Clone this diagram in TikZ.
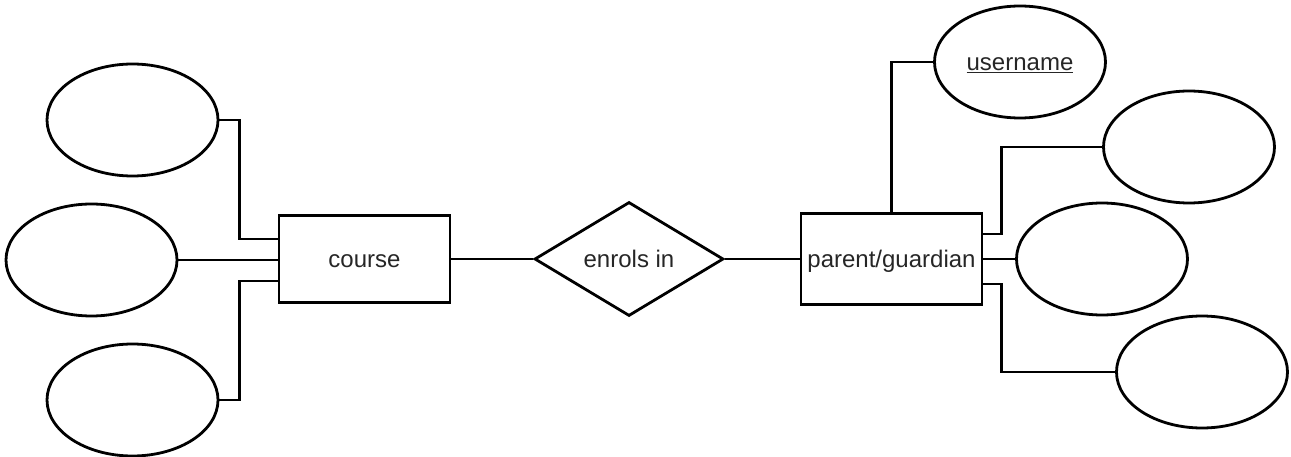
\documentclass[tikz,border=0pt]{standalone}
\usepackage{fontspec}
\setmainfont{Liberation Sans}
\usetikzlibrary{shapes.geometric}
\begin{document}
\begin{tikzpicture}[x=1pt,y=-1pt,line width=2.8pt,
  attr/.style={draw, ellipse, minimum width=171pt, minimum height=112pt, inner sep=0pt},
  entity/.style={draw, rectangle, inner sep=0pt},
  rel/.style={draw, diamond, inner sep=0pt, aspect=1.66, minimum width=189pt, minimum height=114pt},
  lbl/.style={font=\fontsize{24}{28}\selectfont, text=black!85, text height=17.5pt, text depth=0pt}]
\useasboundingbox (0,0) rectangle (1291,457);
% course side
\node[entity, lbl, minimum width=171pt, minimum height=87pt] (course) at (364.5,259) {course};
\node[attr] (A1) at (132.5,120) {};
\node[attr] (A2) at (91.5,260) {};
\node[attr] (A3) at (132.5,400) {};
% relationship
\node[rel, lbl] (rel) at (629,259) {enrols in};
% parent side
\node[entity, lbl, minimum width=181pt, minimum height=91pt] (parent) at (891.5,259) {parent/guardian};
\node[attr, lbl] (U) at (1020,62) {\underline{username}};
\node[attr] (B1) at (1189,147) {};
\node[attr] (B2) at (1102,259) {};
\node[attr] (B3) at (1202,372) {};
% connectors
\draw (A1.east) -| ([xshift=-38pt,yshift=20pt]course.west) -- ([yshift=20pt]course.west);
\draw (A2.east) -- (A2.east -| course.west);
\draw (A3.east) -| ([xshift=-38pt,yshift=-22pt]course.west) -- ([yshift=-22pt]course.west);
\draw (course.east) -- (course.east -| rel.west);
\draw (rel.east) -- (rel.east -| parent.west);
\draw (parent.north) |- (U.west);
\draw ([yshift=25pt]parent.east) -- ++(18,0) |- (B1.west);
\draw (parent.east) -- (parent.east -| B2.west);
\draw ([yshift=-25pt]parent.east) -- ++(18,0) |- (B3.west);
\end{tikzpicture}
\end{document}
